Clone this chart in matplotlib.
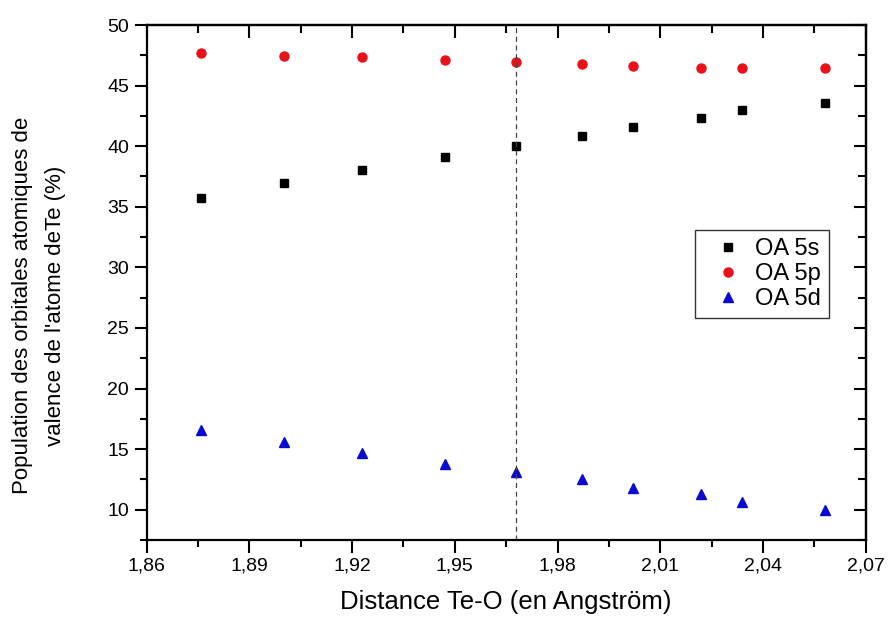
import matplotlib
matplotlib.use('Agg')
import matplotlib.pyplot as plt
from matplotlib.ticker import MultipleLocator, FuncFormatter

plt.rcParams['font.family'] = ['Liberation Sans', 'DejaVu Sans']

distance = [1.876, 1.900, 1.923, 1.947, 1.968, 1.987, 2.002, 2.022, 2.034, 2.058]
oa_5s = [35.7, 37.0, 38.05, 39.1, 40.0, 40.85, 41.6, 42.3, 43.0, 43.6]
oa_5p = [47.66, 47.47, 47.36, 47.15, 46.97, 46.75, 46.58, 46.42, 46.42, 46.45]
oa_5d = [16.6, 15.55, 14.65, 13.8, 13.1, 12.5, 11.8, 11.3, 10.6, 10.0]
equilibrium = 1.968


def comma(v, pos):
    return ('%.2f' % v).replace('.', ',')


def main():
    fig = plt.figure(figsize=(8.88, 6.19), dpi=100)
    ax = fig.add_axes([0.165, 0.1276, 0.81, 0.832])

    ax.plot(distance, oa_5s, 's', color='black', markersize=6, label='OA 5s')
    ax.plot(distance, oa_5p, 'o', color='#e8111a', markersize=6.5, label='OA 5p')
    ax.plot(distance, oa_5d, '^', color='#0a0ad0', markersize=7, label='OA 5d')
    ax.axvline(equilibrium, color='#444444', linestyle=(0, (4, 3)), linewidth=0.9)

    ax.set_xlim(1.86, 2.07)
    ax.set_ylim(7.5, 50)
    ax.xaxis.set_major_locator(MultipleLocator(0.03))
    ax.xaxis.set_minor_locator(MultipleLocator(0.015))
    ax.yaxis.set_major_locator(MultipleLocator(5))
    ax.yaxis.set_minor_locator(MultipleLocator(2.5))
    ax.xaxis.set_major_formatter(FuncFormatter(comma))

    for s in ax.spines.values():
        s.set_linewidth(1.6)
    ax.tick_params(which='both', direction='out', width=1.5, labelsize=14, top=False, right=False)
    ax.tick_params(which='major', length=9)
    ax.tick_params(which='minor', length=5)
    # inward ticks on the top and right sides
    ax2 = ax.secondary_xaxis('top')
    ax2.xaxis.set_major_locator(MultipleLocator(0.03))
    ax2.xaxis.set_minor_locator(MultipleLocator(0.015))
    ax2.tick_params(which='both', direction='in', width=1.5, labeltop=False)
    ax2.tick_params(which='major', length=9)
    ax2.tick_params(which='minor', length=6)
    ax2.spines['top'].set_linewidth(1.6)
    ax3 = ax.secondary_yaxis('right')
    ax3.yaxis.set_major_locator(MultipleLocator(5))
    ax3.yaxis.set_minor_locator(MultipleLocator(2.5))
    ax3.tick_params(which='both', direction='in', width=1.5, labelright=False)
    ax3.tick_params(which='major', length=9)
    ax3.tick_params(which='minor', length=6)
    ax3.spines['right'].set_linewidth(1.6)

    ax.set_xlabel('Distance Te-O (en Angström)', fontsize=18.5)
    ax.xaxis.set_label_coords(0.5, -0.098)
    ax.set_ylabel("Population des orbitales atomiques de\nvalence de l'atome deTe (%)",
                  fontsize=16, linespacing=1.75, va='center')
    ax.yaxis.set_label_coords(-0.150, 0.455)

    leg = ax.legend(loc='upper left', bbox_to_anchor=(0.7626, 0.602), fontsize=17,
                    frameon=True, fancybox=False, handlelength=2.1, handletextpad=0.1,
                    borderpad=0.35, labelspacing=0.12, borderaxespad=0)
    leg.get_frame().set_edgecolor('black')
    leg.get_frame().set_linewidth(1.0)

    fig.savefig('out.png', dpi=100)


if __name__ == '__main__':
    main()
